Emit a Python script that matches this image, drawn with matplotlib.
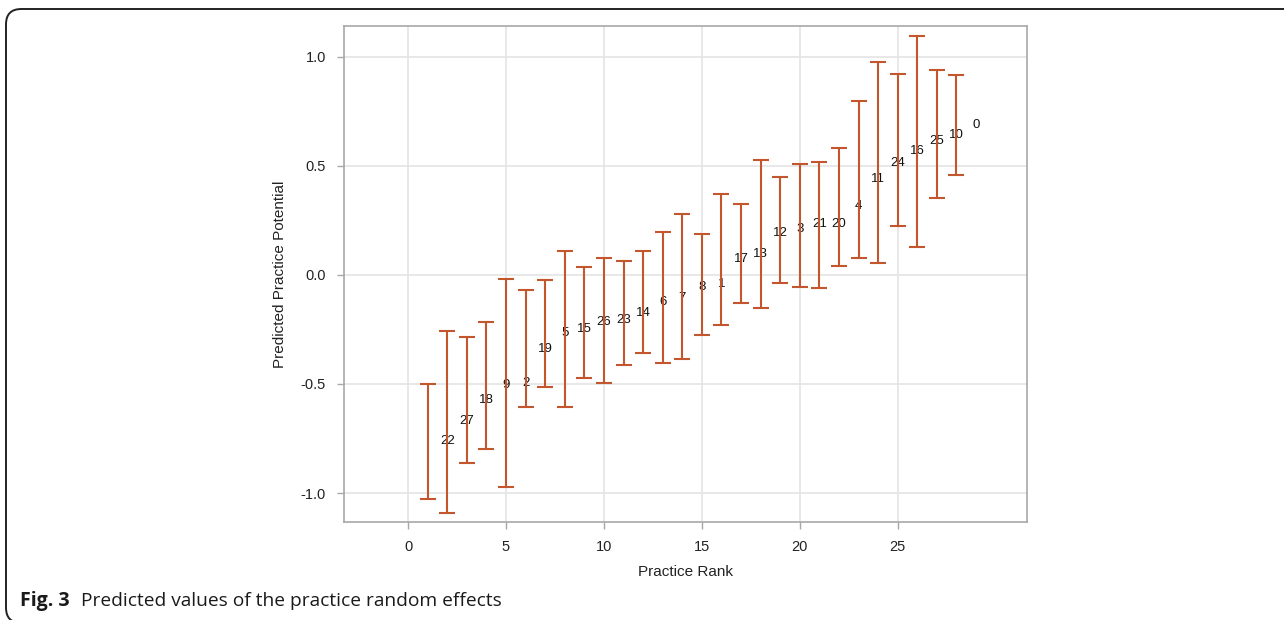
import matplotlib
matplotlib.use("Agg")
import matplotlib.pyplot as plt
from matplotlib.patches import FancyBboxPatch
import numpy as np

# ---- data ----
practice_rank = list(range(1, 29))
practice_id = [22, 27, 18, 9, 2, 19, 5, 15, 26, 23, 14, 6, 7, 8, 1,
               17, 13, 12, 3, 21, 20, 4, 11, 24, 16, 25, 10, 0]
estimate = [-0.762, -0.670, -0.573, -0.506, -0.497, -0.339, -0.268, -0.248,
            -0.217, -0.208, -0.174, -0.122, -0.107, -0.053, -0.040,
            0.072, 0.096, 0.194, 0.211, 0.234, 0.233, 0.318, 0.439,
            0.514, 0.570, 0.616, 0.642, 0.688]
lower = [-1.029, -1.090, -0.864, -0.797, -0.972, -0.606, -0.515, -0.606,
         -0.471, -0.494, -0.414, -0.358, -0.404, -0.387, -0.274,
         -0.228, -0.127, -0.150, -0.035, -0.053, -0.058, 0.043, 0.077,
         0.055, 0.223, 0.127, 0.352, 0.459]
upper = [-0.499, -0.257, -0.284, -0.217, -0.020, -0.070, -0.024, 0.112,
         0.037, 0.077, 0.066, 0.112, 0.196, 0.280, 0.190,
         0.370, 0.324, 0.526, 0.448, 0.509, 0.520, 0.583, 0.798,
         0.977, 0.922, 1.098, 0.939, 0.916]
x_ticks = [0, 5, 10, 15, 20, 25]
y_ticks = [-1.0, -0.5, 0.0, 0.5, 1.0]

plt.rcParams['font.family'] = ['Liberation Sans', 'DejaVu Sans']

W, H = 1284, 620
fig = plt.figure(figsize=(W / 100, H / 100), dpi=100)

ax = fig.add_axes([344 / W, 1 - 522 / H, (1027 - 344) / W, (522 - 26) / H])

bar_color = '#C4562D'
ranks = np.array(practice_rank, dtype=float)
est = np.array(estimate)
lo = np.array(lower)
hi = np.array(upper)

ax.errorbar(ranks, est, yerr=[est - lo, hi - est], fmt='none',
            ecolor=bar_color, elinewidth=1.5, capsize=6, capthick=1.5,
            zorder=3)

# labels (drawn one rank to the right, as in the original figure)
for r, pid, e in zip(ranks, practice_id, est):
    ax.text(r + 1, e, str(pid), ha='center', va='center', fontsize=9.5,
            color='#111111', zorder=2)

ax.set_xlim(-3.27, 31.6)
ax.set_ylim(-1.133, 1.142)
ax.set_xticks(x_ticks)
ax.set_xticklabels([str(t) for t in x_ticks])
ax.set_yticks(y_ticks)
ax.set_yticklabels([f"{t:.1f}" for t in y_ticks])

ax.grid(True, color='#E4E4E4', linewidth=1.2, zorder=0)
ax.set_axisbelow(True)
for s in ax.spines.values():
    s.set_color('#A8A8A8')
    s.set_linewidth(1.2)
ax.tick_params(axis='both', colors='#A8A8A8', labelcolor='#222222',
               labelsize=10.5, length=5, width=1.0, pad=8)

ax.set_xlabel('Practice Rank', fontsize=11, color='#222222', labelpad=8)
ax.set_ylabel('Predicted Practice Potential', fontsize=11, color='#222222',
              labelpad=10)

# outer frame (rounded, cut off at right and bottom)
frame = FancyBboxPatch((6 / W, -3 / H), (1320 - 6) / W, (611 + 3) / H,
                       boxstyle='round,pad=0,rounding_size=0.012',
                       transform=fig.transFigure, fill=False,
                       edgecolor='#222222', linewidth=1.4, clip_on=False,
                       mutation_aspect=W / H)
fig.patches.append(frame)

# caption
fig.text(20 / W, 1 - 601 / H, 'Fig. 3', fontsize=14, fontweight='bold',
         family=['Open Sans', 'DejaVu Sans'], va='center', ha='left',
         color='#1a1a1a')
fig.text(81 / W, 1 - 601 / H, 'Predicted values of the practice random effects',
         fontsize=13.8, family=['Open Sans', 'DejaVu Sans'], va='center',
         ha='left', color='#1a1a1a')

fig.savefig('out.png', dpi=100)
